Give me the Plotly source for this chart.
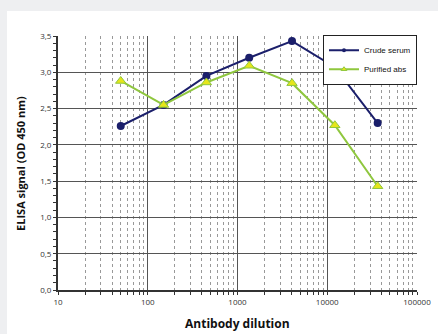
import plotly.graph_objects as go

dilutions = [50, 150, 450, 1350, 4050, 12150, 36450]
crude_serum = [2.26, 2.55, 2.95, 3.20, 3.43, 3.07, 2.30]
purified_abs = [2.88, 2.55, 2.86, 3.09, 2.85, 2.27, 1.43]
series_names = ["Crude serum", "Purified abs"]
x_tick_vals = [10, 100, 1000, 10000, 100000]
x_tick_text = ["10", "100", "1000", "10000", "100000"]
x_title = "Antibody dilution"
y_title = "ELISA signal (OD 450 nm)"

navy = "#1b1f6b"
green = "#8fc73e"
yellow = "#e6e61a"

fig = go.Figure()
fig.add_trace(go.Scatter(
    x=dilutions, y=crude_serum, name=series_names[0], mode="lines+markers",
    line=dict(color=navy, width=2),
    marker=dict(symbol="circle", size=8, color=navy),
    showlegend=False,
))
fig.add_trace(go.Scatter(
    x=dilutions, y=purified_abs, name=series_names[1], mode="lines+markers",
    line=dict(color=green, width=2),
    marker=dict(symbol="triangle-up", size=9, color=yellow, line=dict(color=green, width=1)),
    showlegend=False,
))
# legend entries (smaller markers, as in the reference legend)
fig.add_trace(go.Scatter(
    x=[None], y=[None], name=series_names[0], mode="lines+markers",
    line=dict(color=navy, width=2), marker=dict(symbol="circle", size=4, color=navy),
))
fig.add_trace(go.Scatter(
    x=[None], y=[None], name=series_names[1], mode="lines+markers",
    line=dict(color=green, width=2),
    marker=dict(symbol="triangle-up", size=5, color=yellow, line=dict(color=green, width=1)),
))

fig.add_shape(type="rect", xref="paper", yref="paper", x0=-0.142, x1=1.1, y0=-0.2, y1=1.098,
              fillcolor="white", line=dict(width=0), layer="below")

fig.add_annotation(text="<b>" + y_title + "</b>", xref="paper", yref="paper",
                   x=-0.106, y=0.5, textangle=-90, showarrow=False,
                   xanchor="center", yanchor="middle",
                   font=dict(size=11, color="#111111", family="Open Sans, sans-serif"))
fig.add_annotation(text="<b>" + x_title + "</b>", xref="paper", yref="paper",
                   x=0.5, y=-0.133, showarrow=False,
                   xanchor="center", yanchor="middle",
                   font=dict(size=12, color="#111111", family="Open Sans, sans-serif"))

fig.update_layout(
    width=438, height=334,
    margin=dict(l=58, r=21, t=36, b=44),
    paper_bgcolor="#eeeff1",
    plot_bgcolor="white",
    separators=",.",
    font=dict(family="Open Sans, sans-serif", color="#333333", size=8),
    showlegend=True,
    legend=dict(
        x=1.0, y=1.005, xanchor="right", yanchor="top",
        bgcolor="white", bordercolor="#222222", borderwidth=1,
        font=dict(size=8, family="Liberation Sans Narrow, Arial Narrow, sans-serif", color="#111111"),
        itemwidth=30, tracegroupgap=0,
    ),
    xaxis=dict(
        type="log", range=[1, 5], automargin=False,
        tickvals=x_tick_vals, ticktext=x_tick_text,
        showgrid=True, gridcolor="#555555", gridwidth=1,
        showline=True, linecolor="#333333", linewidth=2, mirror=False,
        ticks="outside", ticklen=3, tickcolor="#333333",
        tickfont=dict(size=8, color="#333333"),
        minor=dict(dtick="D1", showgrid=True, gridcolor="#999999", griddash="dot",
                   gridwidth=1, ticks="outside", ticklen=3, tickcolor="#333333"),
        zeroline=False,
    ),
    yaxis=dict(
        range=[0, 3.5], dtick=0.5, tickformat=".1f", automargin=False,
        showgrid=True, gridcolor="#555555", gridwidth=1,
        showline=True, linecolor="#333333", linewidth=2,
        ticks="outside", ticklen=3, tickcolor="#333333",
        tickfont=dict(size=8, color="#333333"),
        minor=dict(dtick=0.1, ticks="outside", ticklen=3, tickcolor="#333333", showgrid=False),
        zeroline=False,
    ),
)

fig.write_html("out.html", config={"displayModeBar": False},
               post_script="document.body.style.margin='0';")
